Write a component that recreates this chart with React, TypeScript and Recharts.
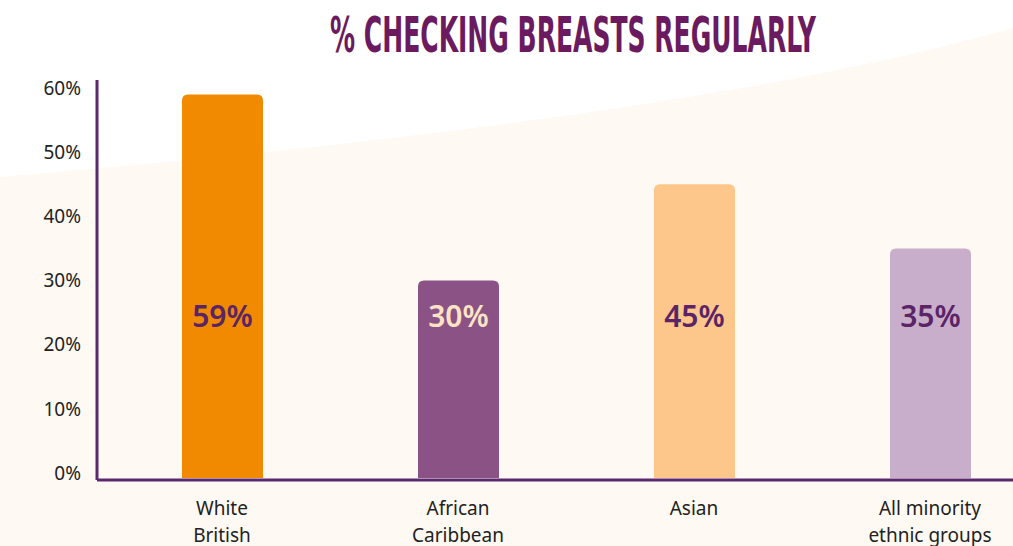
import { Bar, BarChart, LabelList, XAxis, YAxis } from 'recharts'

const categories = [['White', 'British'], ['African', 'Caribbean'], ['Asian'], ['All minority', 'ethnic groups']]
const shares = [59, 30, 45, 35]
const barColors = ['#f28a00', '#8b5385', '#fdc68b', '#c8aecb']
const labelColors = ['#5a2466', '#fde3c4', '#5a2466', '#5a2466']
const yTicks = [0, 10, 20, 30, 40, 50, 60]

const FLOOR = -1.1
const rows = categories.map((lines, i) => ({
  name: lines.join(' '),
  lines,
  value: shares[i],
  color: barColors[i],
  labelColor: labelColors[i],
}))

const AXIS = '#5b2a6e'
const FONT = '"Noto Sans", "Open Sans", sans-serif'

function CategoryTick(props: any) {
  const { x, y, payload, index } = props
  const lines = rows[index]?.lines ?? [payload.value]
  return (
    <text x={x} y={y} textAnchor="middle" fill="#222" fontSize={19} fontFamily={FONT}>
      {lines.map((line: string, i: number) => (
        <tspan key={i} x={x} dy={i === 0 ? 27 : 27}>
          {line}
        </tspan>
      ))}
    </text>
  )
}

function ValueLabel(props: any) {
  const { x, y, width, height, index } = props
  const row = rows[index]
  return (
    <text
      x={x + width / 2}
      y={y + height - 151}
      textAnchor="middle"
      fill={row.labelColor}
      fontSize={30}
      fontWeight={600}
      fontFamily={FONT}
    >
      {row.value}%
    </text>
  )
}

export default function App() {
  return (
    <div
      style={{
        position: 'absolute',
        left: 0,
        top: 0,
        width: 1013,
        height: 546,
        overflow: 'hidden',
        background: '#fef9f3',
      }}
    >
      <svg width={1013} height={546} style={{ position: 'absolute', left: 0, top: 0 }}>
        <path d="M0,0 L1013,0 L1013,28 Q700,118 0,177 Z" fill="#ffffff" />
        <text
          x={330}
          y={52}
          textLength={486}
          lengthAdjust="spacingAndGlyphs"
          fill="#6b1a5f"
          fontSize={50}
          fontWeight={800}
          fontFamily='"Liberation Sans Narrow", "DejaVu Sans Condensed", "DejaVu Sans", sans-serif'
        >
          % CHECKING BREASTS REGULARLY
        </text>
      </svg>
      <div style={{ position: 'absolute', left: 0, top: 0 }}>
        <BarChart
          width={1048}
          height={546}
          data={rows}
          margin={{ top: 80, right: 0, left: 0, bottom: 0 }}
          barSize={81}
        >
          <XAxis
            dataKey="name"
            interval={0}
            height={66}
            padding={{ left: 7, right: 0 }}
            tick={<CategoryTick />}
            tickLine={false}
            axisLine={{ stroke: AXIS, strokeWidth: 3 }}
          />
          <YAxis
            type="number"
            domain={[FLOOR, 61.25]}
            ticks={yTicks}
            width={97}
            tickFormatter={(v: number) => `${v}%`}
            tick={{ fill: '#222', fontSize: 19, fontFamily: FONT }}
            tickLine={false}
            tickMargin={10}
            axisLine={{ stroke: AXIS, strokeWidth: 3 }}
          />
          <Bar
            dataKey={(d: any) => [FLOOR + 0.3, d.value]}
            isAnimationActive={false}
            shape={(p: any) => {
              const { x, y, width, height, payload } = p
              const r = 6
              return (
                <path
                  d={`M${x},${y + height} L${x},${y + r} Q${x},${y} ${x + r},${y} L${x + width - r},${y} Q${x + width},${y} ${x + width},${y + r} L${x + width},${y + height} Z`}
                  fill={payload.color}
                />
              )
            }}
          >
            <LabelList content={<ValueLabel />} />
          </Bar>
        </BarChart>
      </div>
    </div>
  )
}
